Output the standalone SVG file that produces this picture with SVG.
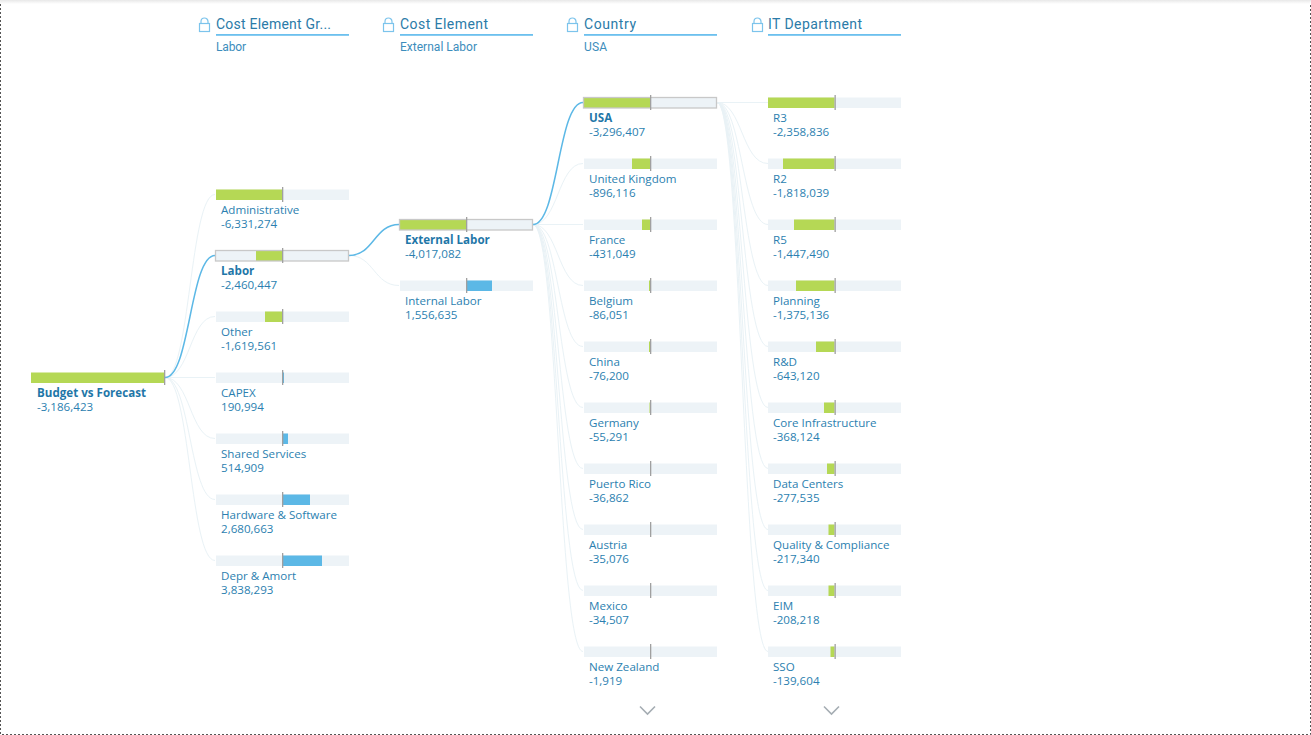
<svg xmlns="http://www.w3.org/2000/svg" width="1311" height="735" viewBox="0 0 1311 735">
<defs>
<linearGradient id="shade" x1="0" y1="0" x2="0" y2="1"><stop offset="0" stop-color="#e8e8e8"/><stop offset="1" stop-color="#ffffff"/></linearGradient>
<g id="lock"><rect x="0.5" y="5.500" width="10" height="8" fill="none" stroke="#7cc4ec" stroke-width="1.2"/><path d="M2 5.500V3.500a3.500 3.500 0 0 1 7 0V5.500" fill="none" stroke="#7cc4ec" stroke-width="1.2"/></g>
</defs>
<style>
text{font-family:"Open Sans","Noto Sans","Liberation Sans",sans-serif;font-size:11.6px;fill:#2c7fb0}
.h{font-family:Roboto,"Liberation Sans",sans-serif;font-size:14px;fill:#2b7ba8}
.s{font-family:Roboto,"Liberation Sans",sans-serif;font-size:12px;fill:#3c8dbc}
.b{font-weight:700;fill:#1f77a8}
.bg{fill:#edf3f7}
.neg{fill:#b5d855}
.pos{fill:#5cb8e6}
.z{fill:#a0a0a0}
.sel{fill:none;stroke:#c8c8c8;stroke-width:1.300}
.ul{fill:#6cc0ee}
.c{fill:none;stroke:#e9f2f6;stroke-width:1}
.a{fill:none;stroke:#5cb8e6;stroke-width:1.500}
.chev{fill:none;stroke:#a5adb3;stroke-width:1.600}
.edge{fill:none;stroke:#555;stroke-width:1;stroke-dasharray:2 2}
</style>
<path class="edge" d="M0.500 0V734.500H1310.500V0"/>
<rect x="0" y="0" width="1311" height="4" fill="url(#shade)"/>

<g id="connectors">
<path class="c" d="M165 377.500C190 377.500 190 194.500 215 194.500"/>
<path class="c" d="M165 377.500C190 377.500 190 316.500 215 316.500"/>
<path class="c" d="M165 377.500H215"/>
<path class="c" d="M165 377.500C190 377.500 190 438.500 215 438.500"/>
<path class="c" d="M165 377.500C190 377.500 190 499.500 215 499.500"/>
<path class="c" d="M165 377.500C190 377.500 190 560.500 215 560.500"/>
<path class="c" d="M349 255.500C374 255.500 374 285.500 399 285.500"/>
<path class="c" d="M533 224.500C558 224.500 558 163.500 583 163.500"/>
<path class="c" d="M533 224.500H583"/>
<path class="c" d="M533 224.500C558 224.500 558 285.500 583 285.500"/>
<path class="c" d="M533 224.500C558 224.500 558 346.500 583 346.500"/>
<path class="c" d="M533 224.500C558 224.500 558 407.500 583 407.500"/>
<path class="c" d="M533 224.500C558 224.500 558 468.500 583 468.500"/>
<path class="c" d="M533 224.500C558 224.500 558 529.500 583 529.500"/>
<path class="c" d="M533 224.500C558 224.500 558 590.500 583 590.500"/>
<path class="c" d="M533 224.500C558 224.500 558 651.500 583 651.500"/>
<path class="c" d="M717 102.500H768"/>
<path class="c" d="M717 102.500C742 102.500 742 163.500 768 163.500"/>
<path class="c" d="M717 102.500C742 102.500 742 224.500 768 224.500"/>
<path class="c" d="M717 102.500C742 102.500 742 285.500 768 285.500"/>
<path class="c" d="M717 102.500C742 102.500 742 346.500 768 346.500"/>
<path class="c" d="M717 102.500C742 102.500 742 407.500 768 407.500"/>
<path class="c" d="M717 102.500C742 102.500 742 468.500 768 468.500"/>
<path class="c" d="M717 102.500C742 102.500 742 529.500 768 529.500"/>
<path class="c" d="M717 102.500C742 102.500 742 590.500 768 590.500"/>
<path class="c" d="M717 102.500C742 102.500 742 651.500 768 651.500"/>
<path class="a" d="M165 377.500C190 377.500 190 255.500 215 255.500"/>
<path class="a" d="M349 255.500C374 255.500 374 224.500 399 224.500"/>
<path class="a" d="M533 224.500C558 224.500 558 102.500 583 102.500"/>
</g>

<g id="header-1"><use href="#lock" x="199" y="18"/><text class="h" x="216" y="28.500" textLength="115">Cost Element Gr...</text><rect class="ul" x="216" y="34" width="133" height="1.800"/><text class="s" x="216" y="51" textLength="30">Labor</text></g>
<g id="header-2"><use href="#lock" x="383" y="18"/><text class="h" x="400" y="28.500" textLength="88">Cost Element</text><rect class="ul" x="400" y="34" width="133" height="1.800"/><text class="s" x="400" y="51" textLength="77">External Labor</text></g>
<g id="header-3"><use href="#lock" x="567" y="18"/><text class="h" x="584" y="28.500" textLength="52">Country</text><rect class="ul" x="584" y="34" width="133" height="1.800"/><text class="s" x="584" y="51" textLength="23">USA</text></g>
<g id="header-4"><use href="#lock" x="752" y="18"/><text class="h" x="768" y="28.500" textLength="94">IT Department</text><rect class="ul" x="768" y="34" width="133" height="1.800"/></g>

<g id="root"><rect class="neg" x="31" y="372.500" width="133.500" height="10.500"/><rect class="z" x="164" y="370" width="1.300" height="15"/><text class="b" x="37" y="397">Budget vs Forecast</text><text x="37" y="411">-3,186,423</text></g>

<g id="n-administrative"><rect class="bg" x="216" y="189.500" width="133" height="10.500"/><rect class="neg" x="216" y="189.500" width="66" height="10.500"/><rect class="z" x="282" y="187" width="1.300" height="15"/><text x="221" y="214">Administrative</text><text x="221" y="228">-6,331,274</text></g>
<g id="n-labor"><rect class="bg" x="216" y="250.500" width="133" height="10.500"/><rect class="neg" x="256" y="250.500" width="26" height="10.500"/><rect class="sel" x="215.500" y="250.500" width="133" height="10.500"/><rect class="z" x="282" y="248" width="1.300" height="15"/><text class="b" x="221" y="275">Labor</text><text x="221" y="289">-2,460,447</text></g>
<g id="n-other"><rect class="bg" x="216" y="311.500" width="133" height="10.500"/><rect class="neg" x="265" y="311.500" width="17" height="10.500"/><rect class="z" x="282" y="309" width="1.300" height="15"/><text x="221" y="336">Other</text><text x="221" y="350">-1,619,561</text></g>
<g id="n-capex"><rect class="bg" x="216" y="372.500" width="133" height="10.500"/><rect class="pos" x="283" y="372.500" width="1" height="10.500"/><rect class="z" x="282" y="370" width="1.300" height="15"/><text x="221" y="397">CAPEX</text><text x="221" y="411">190,994</text></g>
<g id="n-shared"><rect class="bg" x="216" y="433.500" width="133" height="10.500"/><rect class="pos" x="283" y="433.500" width="5" height="10.500"/><rect class="z" x="282" y="431" width="1.300" height="15"/><text x="221" y="458">Shared Services</text><text x="221" y="472">514,909</text></g>
<g id="n-hardware"><rect class="bg" x="216" y="494.500" width="133" height="10.500"/><rect class="pos" x="283" y="494.500" width="27" height="10.500"/><rect class="z" x="282" y="492" width="1.300" height="15"/><text x="221" y="519">Hardware &amp; Software</text><text x="221" y="533">2,680,663</text></g>
<g id="n-depr"><rect class="bg" x="216" y="555.500" width="133" height="10.500"/><rect class="pos" x="283" y="555.500" width="39" height="10.500"/><rect class="z" x="282" y="553" width="1.300" height="15"/><text x="221" y="580">Depr &amp; Amort</text><text x="221" y="594">3,838,293</text></g>

<g id="n-external"><rect class="bg" x="400" y="219.500" width="133" height="10.500"/><rect class="neg" x="400" y="219.500" width="66" height="10.500"/><rect class="sel" x="399.500" y="219.500" width="133" height="10.500"/><rect class="z" x="466" y="217" width="1.300" height="15"/><text class="b" x="405" y="244">External Labor</text><text x="405" y="258">-4,017,082</text></g>
<g id="n-internal"><rect class="bg" x="400" y="280.500" width="133" height="10.500"/><rect class="pos" x="467" y="280.500" width="25" height="10.500"/><rect class="z" x="466" y="278" width="1.300" height="15"/><text x="405" y="305">Internal Labor</text><text x="405" y="319">1,556,635</text></g>

<g id="n-usa"><rect class="bg" x="584" y="97.500" width="133" height="10.500"/><rect class="neg" x="584" y="97.500" width="66" height="10.500"/><rect class="sel" x="583.500" y="97.500" width="133" height="10.500"/><rect class="z" x="650" y="95" width="1.300" height="15"/><text class="b" x="589" y="122">USA</text><text x="589" y="136">-3,296,407</text></g>
<g id="n-uk"><rect class="bg" x="584" y="158.500" width="133" height="10.500"/><rect class="neg" x="632" y="158.500" width="18" height="10.500"/><rect class="z" x="650" y="156" width="1.300" height="15"/><text x="589" y="183">United Kingdom</text><text x="589" y="197">-896,116</text></g>
<g id="n-france"><rect class="bg" x="584" y="219.500" width="133" height="10.500"/><rect class="neg" x="642" y="219.500" width="8" height="10.500"/><rect class="z" x="650" y="217" width="1.300" height="15"/><text x="589" y="244">France</text><text x="589" y="258">-431,049</text></g>
<g id="n-belgium"><rect class="bg" x="584" y="280.500" width="133" height="10.500"/><rect class="neg" x="649" y="280.500" width="1" height="10.500"/><rect class="z" x="650" y="278" width="1.300" height="15"/><text x="589" y="305">Belgium</text><text x="589" y="319">-86,051</text></g>
<g id="n-china"><rect class="bg" x="584" y="341.500" width="133" height="10.500"/><rect class="neg" x="649" y="341.500" width="1" height="10.500"/><rect class="z" x="650" y="339" width="1.300" height="15"/><text x="589" y="366">China</text><text x="589" y="380">-76,200</text></g>
<g id="n-germany"><rect class="bg" x="584" y="402.500" width="133" height="10.500"/><rect class="neg" x="649.500" y="402.500" width="0.500" height="10.500"/><rect class="z" x="650" y="400" width="1.300" height="15"/><text x="589" y="427">Germany</text><text x="589" y="441">-55,291</text></g>
<g id="n-puerto"><rect class="bg" x="584" y="463.500" width="133" height="10.500"/><rect class="z" x="650" y="461" width="1.300" height="15"/><text x="589" y="488">Puerto Rico</text><text x="589" y="502">-36,862</text></g>
<g id="n-austria"><rect class="bg" x="584" y="524.500" width="133" height="10.500"/><rect class="z" x="650" y="522" width="1.300" height="15"/><text x="589" y="549">Austria</text><text x="589" y="563">-35,076</text></g>
<g id="n-mexico"><rect class="bg" x="584" y="585.500" width="133" height="10.500"/><rect class="z" x="650" y="583" width="1.300" height="15"/><text x="589" y="610">Mexico</text><text x="589" y="624">-34,507</text></g>
<g id="n-nz"><rect class="bg" x="584" y="646.500" width="133" height="10.500"/><rect class="z" x="650" y="644" width="1.300" height="15"/><text x="589" y="671">New Zealand</text><text x="589" y="685">-1,919</text></g>
<path id="more-country" class="chev" d="M640 706.500L647.500 714L655 706.500"/>

<g id="n-r3"><rect class="bg" x="768" y="97.500" width="133" height="10.500"/><rect class="neg" x="768" y="97.500" width="66.500" height="10.500"/><rect class="z" x="834.500" y="95" width="1.300" height="15"/><text x="773" y="122">R3</text><text x="773" y="136">-2,358,836</text></g>
<g id="n-r2"><rect class="bg" x="768" y="158.500" width="133" height="10.500"/><rect class="neg" x="783" y="158.500" width="51.500" height="10.500"/><rect class="z" x="834.500" y="156" width="1.300" height="15"/><text x="773" y="183">R2</text><text x="773" y="197">-1,818,039</text></g>
<g id="n-r5"><rect class="bg" x="768" y="219.500" width="133" height="10.500"/><rect class="neg" x="794" y="219.500" width="40.500" height="10.500"/><rect class="z" x="834.500" y="217" width="1.300" height="15"/><text x="773" y="244">R5</text><text x="773" y="258">-1,447,490</text></g>
<g id="n-planning"><rect class="bg" x="768" y="280.500" width="133" height="10.500"/><rect class="neg" x="796" y="280.500" width="38.500" height="10.500"/><rect class="z" x="834.500" y="278" width="1.300" height="15"/><text x="773" y="305">Planning</text><text x="773" y="319">-1,375,136</text></g>
<g id="n-rd"><rect class="bg" x="768" y="341.500" width="133" height="10.500"/><rect class="neg" x="816" y="341.500" width="18.500" height="10.500"/><rect class="z" x="834.500" y="339" width="1.300" height="15"/><text x="773" y="366">R&amp;D</text><text x="773" y="380">-643,120</text></g>
<g id="n-core"><rect class="bg" x="768" y="402.500" width="133" height="10.500"/><rect class="neg" x="824" y="402.500" width="10.500" height="10.500"/><rect class="z" x="834.500" y="400" width="1.300" height="15"/><text x="773" y="427">Core Infrastructure</text><text x="773" y="441">-368,124</text></g>
<g id="n-data"><rect class="bg" x="768" y="463.500" width="133" height="10.500"/><rect class="neg" x="827" y="463.500" width="7.500" height="10.500"/><rect class="z" x="834.500" y="461" width="1.300" height="15"/><text x="773" y="488">Data Centers</text><text x="773" y="502">-277,535</text></g>
<g id="n-quality"><rect class="bg" x="768" y="524.500" width="133" height="10.500"/><rect class="neg" x="828.500" y="524.500" width="6" height="10.500"/><rect class="z" x="834.500" y="522" width="1.300" height="15"/><text x="773" y="549">Quality &amp; Compliance</text><text x="773" y="563">-217,340</text></g>
<g id="n-eim"><rect class="bg" x="768" y="585.500" width="133" height="10.500"/><rect class="neg" x="828.500" y="585.500" width="6" height="10.500"/><rect class="z" x="834.500" y="583" width="1.300" height="15"/><text x="773" y="610">EIM</text><text x="773" y="624">-208,218</text></g>
<g id="n-sso"><rect class="bg" x="768" y="646.500" width="133" height="10.500"/><rect class="neg" x="830.500" y="646.500" width="4" height="10.500"/><rect class="z" x="834.500" y="644" width="1.300" height="15"/><text x="773" y="671">SSO</text><text x="773" y="685">-139,604</text></g>
<path id="more-dept" class="chev" d="M824 706.500L831.500 714L839 706.500"/>
</svg>
